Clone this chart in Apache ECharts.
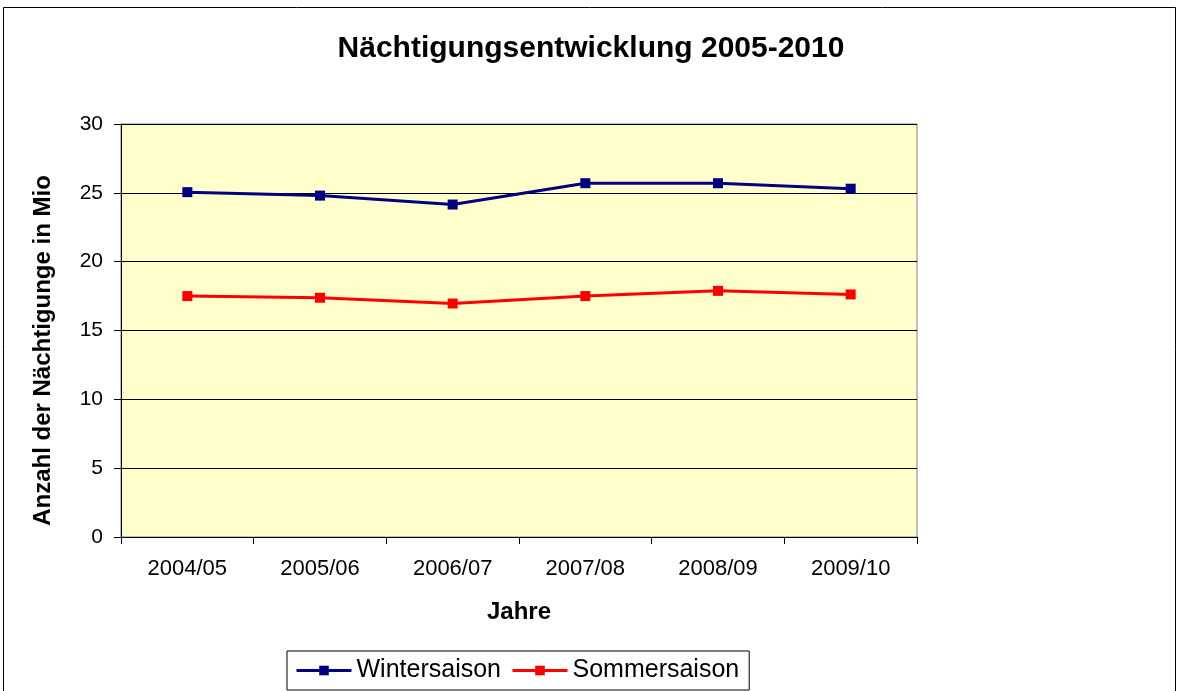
<!DOCTYPE html>
<html>
<head>
<meta charset="utf-8">
<script src="https://cdn.jsdelivr.net/npm/echarts@6/dist/echarts.min.js"></script>
<style>
  html, body { margin: 0; padding: 0; background: #fff; }
  #chart { width: 1182px; height: 691px; }
</style>
</head>
<body>
<div id="chart"></div>
<script>
  var jahre = ['2004/05', '2005/06', '2006/07', '2007/08', '2008/09', '2009/10'];
  var winter = [25.05, 24.8, 24.15, 25.7, 25.7, 25.3];
  var sommer = [17.5, 17.38, 16.96, 17.5, 17.88, 17.62];

  var chart = echarts.init(document.getElementById('chart'));
  var font = 'Liberation Sans, Arial, sans-serif';

  var option = {
    backgroundColor: '#ffffff',
    animation: false,
    textStyle: { fontFamily: font },
    title: {
      text: 'Nächtigungsentwicklung 2005-2010',
      left: 'center',
      top: 29,
      textStyle: { fontSize: 30, fontWeight: 'bold', color: '#000', fontFamily: font }
    },
    graphic: [{
      type: 'rect',
      shape: { x: 3.5, y: 7.5, width: 1172, height: 700 },
      style: { fill: 'none', stroke: '#000', lineWidth: 1 },
      silent: true
    }],
    legend: {
      bottom: 1,
      left: 287,
      itemWidth: 55,
      itemHeight: 12,
      itemGap: 10,
      padding: [7, 10, 7, 8],
      borderColor: '#000',
      borderWidth: 1,
      lineStyle: { width: 3 },
      textStyle: { fontSize: 25, color: '#000', fontFamily: font },
      data: ['Wintersaison', 'Sommersaison']
    },
    grid: {
      left: 121,
      top: 124,
      width: 796,
      height: 413,
      show: true,
      backgroundColor: '#FFFFCC',
      borderColor: '#808080',
      borderWidth: 1
    },
    xAxis: {
      type: 'category',
      data: jahre,
      boundaryGap: true,
      name: 'Jahre',
      nameLocation: 'middle',
      nameGap: 63,
      nameTextStyle: { fontSize: 24, fontWeight: 'bold', color: '#000', fontFamily: font },
      axisLine: { lineStyle: { color: '#000', width: 1 } },
      axisTick: { show: true, length: 7, lineStyle: { color: '#000' } },
      axisLabel: { fontSize: 22, color: '#000', margin: 21, fontFamily: font },
      splitLine: { show: false }
    },
    yAxis: {
      type: 'value',
      min: 0,
      max: 30,
      interval: 5,
      name: 'Anzahl der Nächtigunge in Mio',
      nameLocation: 'middle',
      nameGap: 66,
      nameTextStyle: { fontSize: 24, fontWeight: 'bold', color: '#000', fontFamily: font, padding: [0, 40, 0, 0] },
      axisLine: { show: true, lineStyle: { color: '#000', width: 1 } },
      axisTick: { show: true, length: 7, lineStyle: { color: '#000' } },
      axisLabel: { fontSize: 21, color: '#000', margin: 18, fontFamily: font },
      splitLine: { show: true, lineStyle: { color: '#000', width: 1 } }
    },
    series: [
      {
        name: 'Wintersaison',
        type: 'line',
        data: winter,
        symbol: 'rect',
        symbolSize: 10,
        lineStyle: { color: '#000080', width: 3 },
        itemStyle: { color: '#000080' }
      },
      {
        name: 'Sommersaison',
        type: 'line',
        data: sommer,
        symbol: 'rect',
        symbolSize: 10,
        lineStyle: { color: '#FF0000', width: 3 },
        itemStyle: { color: '#FF0000' }
      }
    ]
  };

  chart.setOption(option);
</script>
</body>
</html>
